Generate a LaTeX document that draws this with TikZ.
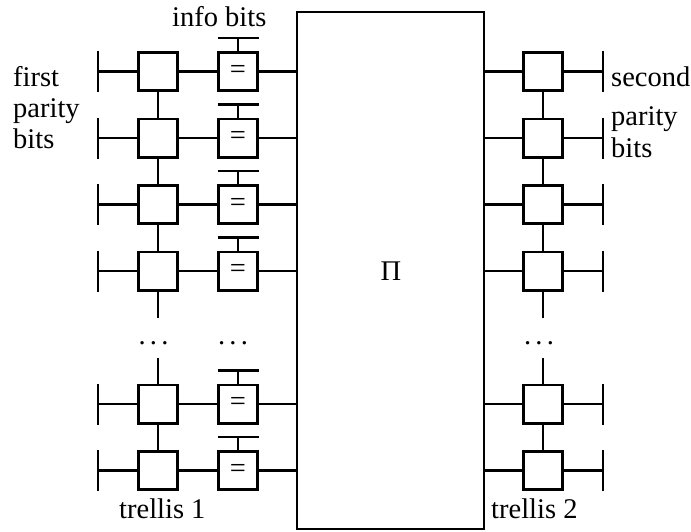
\documentclass[tikz,border=0pt]{standalone}
\usepackage{fontspec}
\setmainfont{Liberation Serif}
\begin{document}
\begin{tikzpicture}[x=1pt,y=-1pt,
  every node/.style={font=\fontsize{28.5}{32}\selectfont},
  tbox/.style={draw,line width=2.8pt,minimum width=39.2pt,minimum height=38.2pt,inner sep=0pt,fill=white},
  ebox/.style={tbox},
  bigbox/.style={draw,line width=2pt,minimum width=187pt,minimum height=517.5pt,inner sep=0pt},
  wire/.style={line width=2.2pt},
  vbar/.style={line width=2.5pt},
  txt/.style={inner sep=0pt,anchor=base west},
  dotsn/.style={inner sep=0pt}]
\useasboundingbox (0,0) rectangle (691,531);

\node[bigbox] (P) at (390.75,270.25) {};
\node[inner sep=0pt] (pi) at (391,271.5) {Π};

% rows
\foreach \i/\y in {1/71.5,2/138,3/204.5,4/271,6/404,7/470.5}{
  \node[tbox] (L\i) at (158,\y) {};
  \node[ebox] (E\i) at (238,\y) {=};
  \node[tbox] (R\i) at (543,\y) {};
  \coordinate (lb\i) at (98,\y);
  \coordinate (rb\i) at (603,\y);
  \coordinate (eb\i) at (238,\y-33.5);
  \draw[vbar] ([yshift=-20.5pt]lb\i) -- ([yshift=20.5pt]lb\i);
  \draw[vbar] ([yshift=-20.5pt]rb\i) -- ([yshift=20.5pt]rb\i);
  \draw[wire] (lb\i) -- (L\i.west);
  \draw[wire] (L\i.east) -- (E\i.west);
  \draw[wire] (E\i.east) -- (E\i -| P.west);
  \draw[wire] (P.east |- R\i) -- (R\i.west);
  \draw[wire] (R\i.east) -- (rb\i);
  \draw[wire] ([xshift=-20.5pt]eb\i) -- ([xshift=20.5pt]eb\i);
  \draw[wire] (eb\i) -- (E\i.north);
}

% vertical trellis links
\foreach \a/\b in {1/2,2/3,3/4,6/7}{
  \draw[vbar] (L\a.south) -- (L\b.north);
  \draw[wire] (R\a.south) -- (R\b.north);
}
\draw[vbar] (L4.south) -- ++(0,26);
\draw[vbar] (L6.north) -- ++(0,-26);
\draw[wire] (R4.south) -- ++(0,26);
\draw[wire] (R6.north) -- ++(0,-26);

% dots
\node[dotsn] (dL) at (153.5,343) {.\kern4.3pt.\kern4.3pt.};
\node[dotsn] (dE) at (233,343) {.\kern4.3pt.\kern4.3pt.};
\node[dotsn] (dR) at (539,343) {.\kern4.3pt.\kern4.3pt.};

% labels
\node[txt] (info) at (172,26) {info bits};
\node[txt] (f1) at (13,86) {first};
\node[txt] (f2) at (13,117) {parity};
\node[txt] (f3) at (13,148) {bits};
\node[txt] (s1) at (611,86) {second};
\node[txt] (s2) at (611,125) {parity};
\node[txt] (s3) at (611,157) {bits};
\node[txt] (t1) at (119,518) {trellis 1};
\node[txt] (t2) at (491,518) {trellis 2};
\end{tikzpicture}
\end{document}
